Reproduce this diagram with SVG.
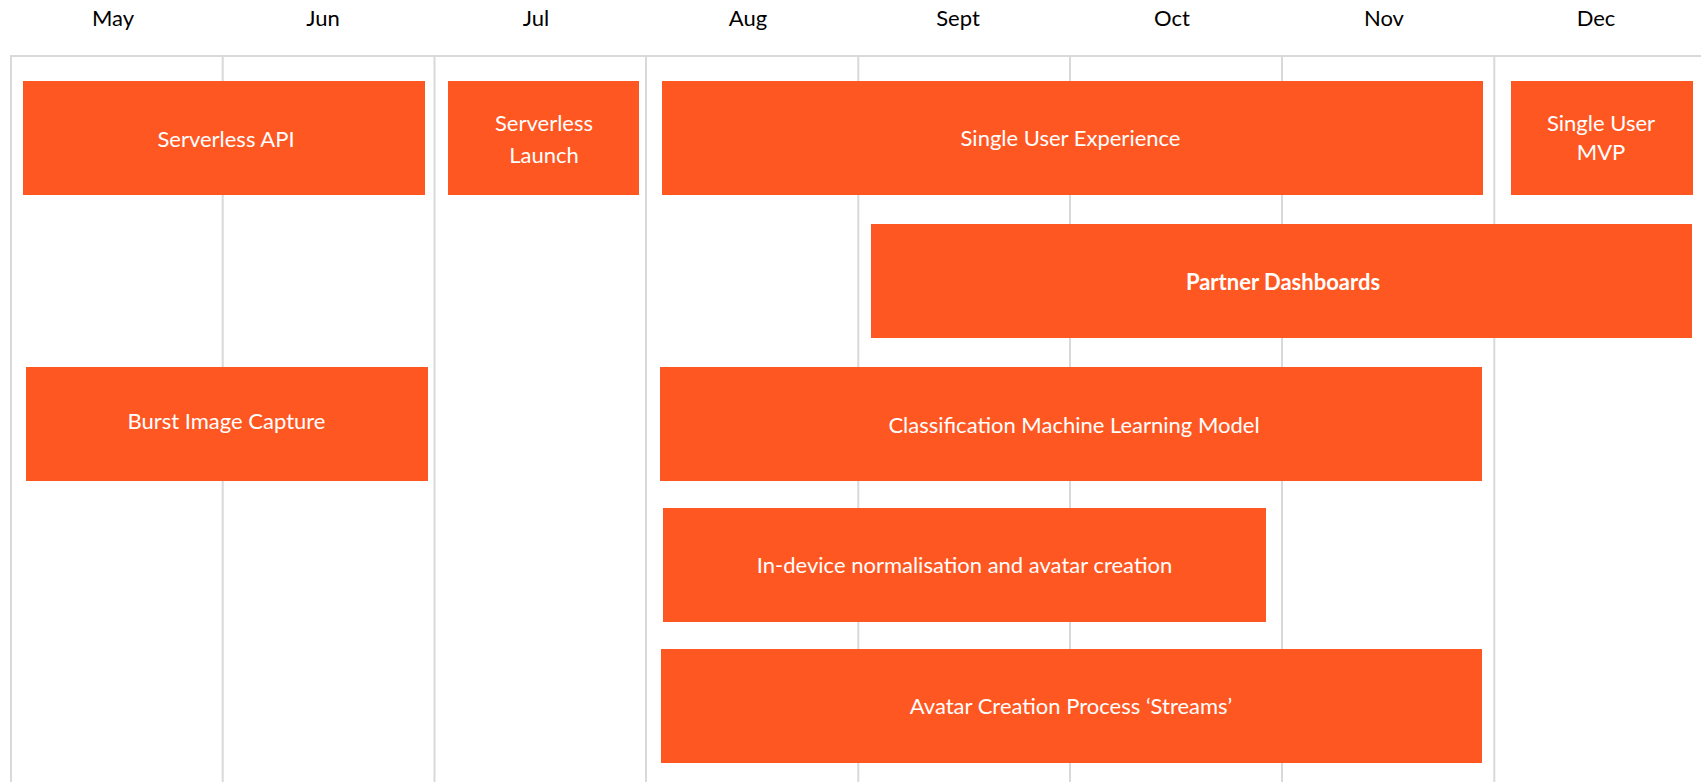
<svg xmlns="http://www.w3.org/2000/svg" width="1701" height="782" viewBox="0 0 1701 782">
  <style>
    .grid { stroke: #d9d9d9; stroke-width: 2; fill: none; }
    .month { font-family: Lato, "Liberation Sans", sans-serif; font-size: 22px; fill: #000000; text-anchor: middle; }
    .bar { fill: #FF5722; }
    .label { font-family: Lato, "Liberation Sans", sans-serif; font-size: 22px; fill: #ffffff; text-anchor: middle; }
    .bold { font-weight: bold; }
  </style>

  <rect x="0" y="0" width="1701" height="782" fill="#ffffff"/>

  <!-- month headings -->
  <g id="months">
    <text class="month" x="113" y="26">May</text>
    <text class="month" x="323" y="26">Jun</text>
    <text class="month" x="536" y="26">Jul</text>
    <text class="month" x="748" y="26">Aug</text>
    <text class="month" x="958" y="26">Sept</text>
    <text class="month" x="1172" y="26">Oct</text>
    <text class="month" x="1384" y="26">Nov</text>
    <text class="month" x="1596" y="26">Dec</text>
  </g>

  <!-- month grid -->
  <g id="grid" class="grid">
    <path d="M10 56 H1701"/>
    <path d="M11 56 V782"/>
    <path d="M222.7 56 V782"/>
    <path d="M434.5 56 V782"/>
    <path d="M646 56 V782"/>
    <path d="M858.3 56 V782"/>
    <path d="M1070 56 V782"/>
    <path d="M1282 56 V782"/>
    <path d="M1494.3 56 V782"/>
  </g>

  <!-- timeline bars -->
  <g id="serverless-api">
    <rect class="bar" x="23" y="81" width="402" height="114"/>
    <text class="label" x="226" y="147">Serverless API</text>
  </g>

  <g id="serverless-launch">
    <rect class="bar" x="448" y="81" width="191" height="114"/>
    <text class="label" x="544" y="131">Serverless</text>
    <text class="label" x="544" y="162.5">Launch</text>
  </g>

  <g id="single-user-experience">
    <rect class="bar" x="662" y="81" width="821" height="114"/>
    <text class="label" x="1070.5" y="146">Single User Experience</text>
  </g>

  <g id="single-user-mvp">
    <rect class="bar" x="1511" y="81" width="182" height="114"/>
    <text class="label" x="1601" y="131">Single User</text>
    <text class="label" x="1601" y="160">MVP</text>
  </g>

  <g id="partner-dashboards">
    <rect class="bar" x="871" y="224" width="821" height="114"/>
    <text class="label bold" x="1283" y="289.5">Partner Dashboards</text>
  </g>

  <g id="burst-image-capture">
    <rect class="bar" x="26" y="367" width="402" height="114"/>
    <text class="label" x="226.5" y="428.5">Burst Image Capture</text>
  </g>

  <g id="classification-model">
    <rect class="bar" x="660" y="367" width="822" height="114"/>
    <text class="label" x="1074" y="433">Classification Machine Learning Model</text>
  </g>

  <g id="in-device-normalisation">
    <rect class="bar" x="663" y="508" width="603" height="114"/>
    <text class="label" x="964.5" y="572.5">In-device normalisation and avatar creation</text>
  </g>

  <g id="avatar-creation-streams">
    <rect class="bar" x="661" y="649" width="821" height="114"/>
    <text class="label" x="1071" y="713.5">Avatar Creation Process ‘Streams’</text>
  </g>
</svg>
